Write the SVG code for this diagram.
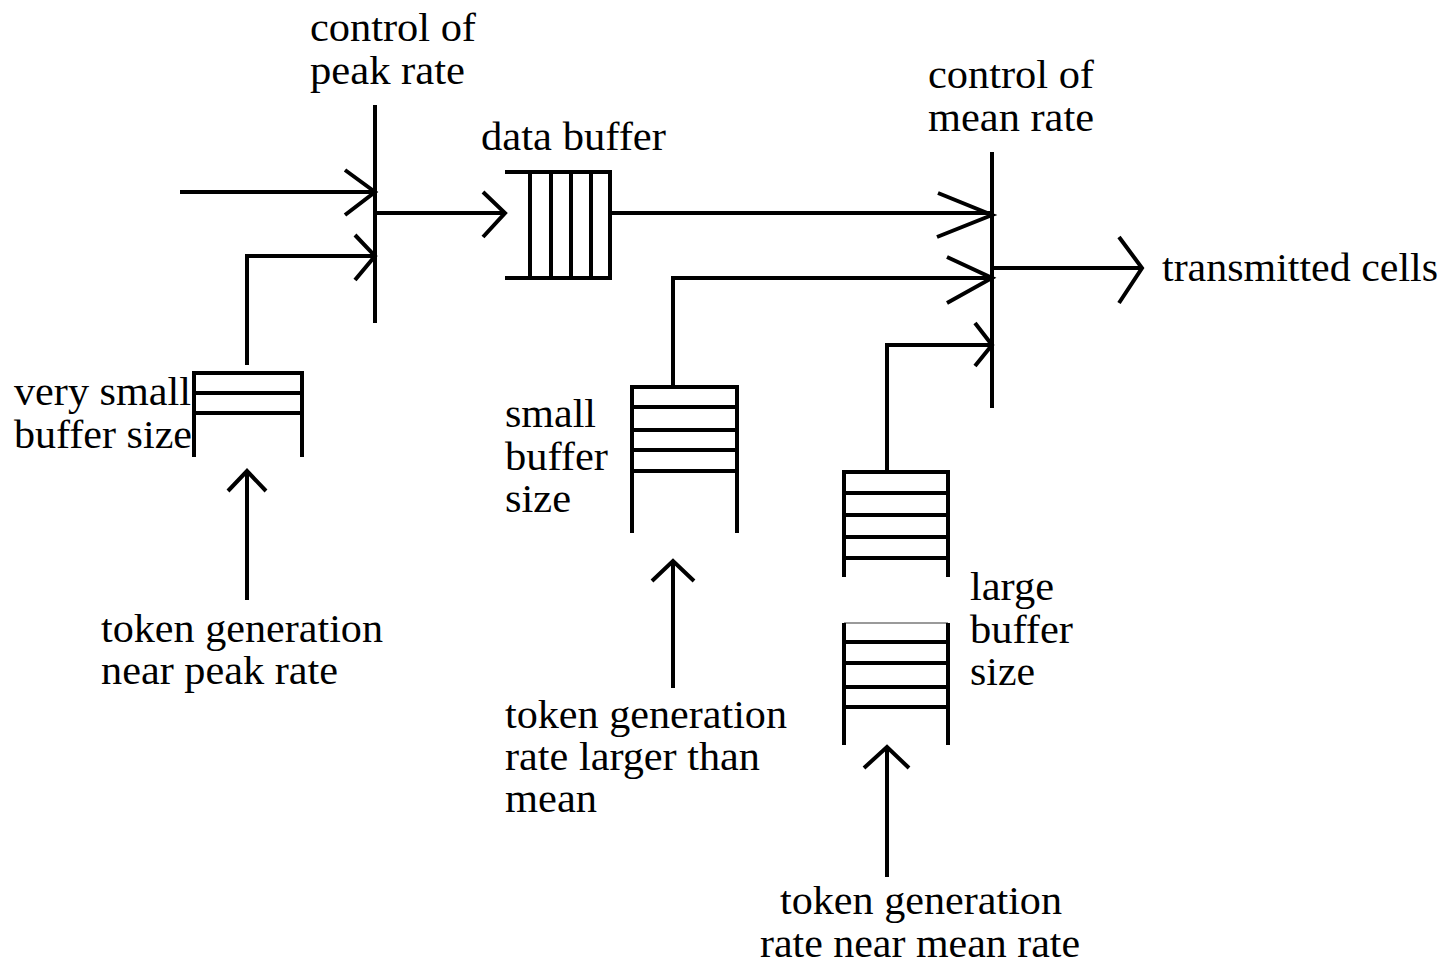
<svg xmlns="http://www.w3.org/2000/svg" width="1449" height="966" viewBox="0 0 1449 966">
  <style>
    .ln { fill: none; stroke: #000; stroke-width: 4; stroke-linecap: butt; stroke-linejoin: miter; }
    .thin { fill: none; stroke: #9a9a9a; stroke-width: 2; }
    text { font-family: "Liberation Serif", "Times New Roman", serif; font-size: 41px; fill: #000; }
  </style>
  <rect width="1449" height="966" fill="#fff"/>

  <!-- peak rate control gate -->
  <g id="peak-control">
    <line class="ln" x1="375" y1="105" x2="375" y2="323"/>
    <text x="310" y="41" textLength="166" lengthAdjust="spacingAndGlyphs">control of</text>
    <text x="310" y="84" textLength="155" lengthAdjust="spacingAndGlyphs">peak rate</text>
  </g>

  <!-- data buffer -->
  <g id="data-buffer">
    <polyline class="ln" points="505,172 610,172 610,278 505,278"/>
    <line class="ln" x1="530" y1="172" x2="530" y2="278"/>
    <line class="ln" x1="551" y1="172" x2="551" y2="278"/>
    <line class="ln" x1="571" y1="172" x2="571" y2="278"/>
    <line class="ln" x1="591" y1="172" x2="591" y2="278"/>
    <text x="481" y="150" textLength="185" lengthAdjust="spacingAndGlyphs">data buffer</text>
  </g>

  <!-- mean rate control gate -->
  <g id="mean-control">
    <line class="ln" x1="992" y1="152" x2="992" y2="408"/>
    <text x="928" y="88" textLength="166" lengthAdjust="spacingAndGlyphs">control of</text>
    <text x="928" y="131" textLength="166" lengthAdjust="spacingAndGlyphs">mean rate</text>
  </g>

  <!-- output -->
  <g id="transmitted">
    <text x="1162" y="281" textLength="276" lengthAdjust="spacingAndGlyphs">transmitted cells</text>
  </g>

  <!-- very small token buffer -->
  <g id="very-small-buffer">
    <polyline class="ln" points="194,457 194,373 302,373 302,457"/>
    <line class="ln" x1="194" y1="393" x2="302" y2="393"/>
    <line class="ln" x1="194" y1="413" x2="302" y2="413"/>
    <text x="14" y="405" textLength="177" lengthAdjust="spacingAndGlyphs">very small</text>
    <text x="14" y="448" textLength="178" lengthAdjust="spacingAndGlyphs">buffer size</text>
  </g>

  <!-- small token buffer -->
  <g id="small-buffer">
    <polyline class="ln" points="632,533 632,387 737,387 737,533"/>
    <line class="ln" x1="632" y1="407" x2="737" y2="407"/>
    <line class="ln" x1="632" y1="430" x2="737" y2="430"/>
    <line class="ln" x1="632" y1="450" x2="737" y2="450"/>
    <line class="ln" x1="632" y1="471" x2="737" y2="471"/>
    <text x="505" y="427" textLength="91" lengthAdjust="spacingAndGlyphs">small</text>
    <text x="505" y="470" textLength="103" lengthAdjust="spacingAndGlyphs">buffer</text>
    <text x="505" y="512" textLength="66" lengthAdjust="spacingAndGlyphs">size</text>
  </g>

  <!-- large token buffer, drawn broken in two parts -->
  <g id="large-buffer">
    <polyline class="ln" points="844,577 844,472 948,472 948,577"/>
    <line class="ln" x1="844" y1="493" x2="948" y2="493"/>
    <line class="ln" x1="844" y1="515" x2="948" y2="515"/>
    <line class="ln" x1="844" y1="537" x2="948" y2="537"/>
    <line class="ln" x1="844" y1="558" x2="948" y2="558"/>
    <line class="thin" x1="844" y1="623" x2="948" y2="623"/>
    <line class="ln" x1="844" y1="623" x2="844" y2="745"/>
    <line class="ln" x1="948" y1="623" x2="948" y2="745"/>
    <line class="ln" x1="844" y1="642" x2="948" y2="642"/>
    <line class="ln" x1="844" y1="663" x2="948" y2="663"/>
    <line class="ln" x1="844" y1="687" x2="948" y2="687"/>
    <line class="ln" x1="844" y1="707" x2="948" y2="707"/>
    <text x="970" y="600" textLength="84" lengthAdjust="spacingAndGlyphs">large</text>
    <text x="970" y="643" textLength="103" lengthAdjust="spacingAndGlyphs">buffer</text>
    <text x="970" y="685" textLength="65" lengthAdjust="spacingAndGlyphs">size</text>
  </g>

  <!-- token generators -->
  <g id="token-peak">
    <text x="101" y="642" textLength="282" lengthAdjust="spacingAndGlyphs">token generation</text>
    <text x="101" y="684" textLength="237" lengthAdjust="spacingAndGlyphs">near peak rate</text>
  </g>
  <g id="token-above-mean">
    <text x="505" y="728" textLength="282" lengthAdjust="spacingAndGlyphs">token generation</text>
    <text x="505" y="770" textLength="255" lengthAdjust="spacingAndGlyphs">rate larger than</text>
    <text x="505" y="812" textLength="92" lengthAdjust="spacingAndGlyphs">mean</text>
  </g>
  <g id="token-mean">
    <text x="780" y="914" textLength="282" lengthAdjust="spacingAndGlyphs">token generation</text>
    <text x="760" y="957" textLength="320" lengthAdjust="spacingAndGlyphs">rate near mean rate</text>
  </g>

  <!-- connectors -->
  <g id="connectors">
    <!-- incoming cells to peak gate -->
    <line class="ln" x1="180" y1="192" x2="375" y2="192"/>
    <polyline class="ln" points="345,170 375,192 345,215"/>
    <!-- very small buffer tokens to peak gate -->
    <polyline class="ln" points="247,365 247,256 375,256"/>
    <polyline class="ln" points="355,235 375,256 355,280"/>
    <!-- peak gate to data buffer -->
    <line class="ln" x1="375" y1="213" x2="505" y2="213"/>
    <polyline class="ln" points="483,192 505,213 483,237"/>
    <!-- data buffer to mean gate -->
    <line class="ln" x1="610" y1="213" x2="992" y2="213"/>
    <polyline class="ln" points="938,193 992,215 937,237"/>
    <!-- small buffer tokens to mean gate -->
    <polyline class="ln" points="673,387 673,278 992,278"/>
    <polyline class="ln" points="947,257 992,278 947,303"/>
    <!-- large buffer tokens to mean gate -->
    <polyline class="ln" points="887,472 887,345 992,345"/>
    <polyline class="ln" points="975,323 992,345 975,366"/>
    <!-- mean gate to output -->
    <line class="ln" x1="992" y1="268" x2="1142" y2="268"/>
    <polyline class="ln" points="1119,237 1142,268 1119,303"/>
    <!-- token generators feeding buffers -->
    <line class="ln" x1="247" y1="600" x2="247" y2="472"/>
    <polyline class="ln" points="228,491 247,471 266,491"/>
    <line class="ln" x1="673" y1="688" x2="673" y2="562"/>
    <polyline class="ln" points="652,581 673,561 694,581"/>
    <line class="ln" x1="887" y1="877" x2="887" y2="749"/>
    <polyline class="ln" points="864,768 887,747 909,768"/>
  </g>
</svg>
